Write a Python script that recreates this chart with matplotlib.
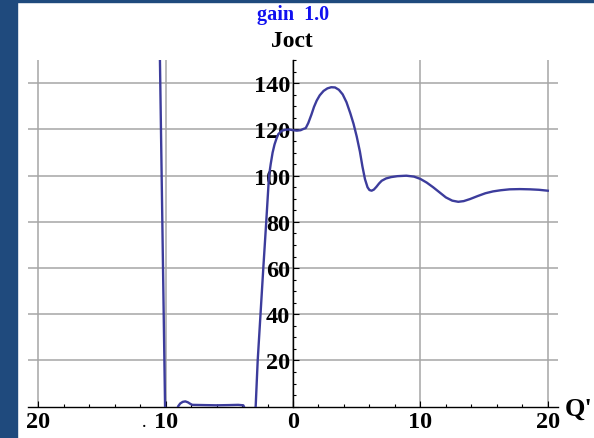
import matplotlib
matplotlib.use("Agg")
import matplotlib.pyplot as plt
from matplotlib.patches import Rectangle
from matplotlib.ticker import MultipleLocator, FuncFormatter

# Joct response against Q'
q_vals = [-10.55, -10.04, -9.6, -9.1, -9.0, -8.85, -8.65, -8.45, -8.25, -8.05,
          -7.9, -7.0, -6.0, -5.0, -4.3, -3.9, -3.6, -3.2, -2.93, -2.77,
          -2.55, -2.33, -2.1, -1.88, -1.75, -1.6, -1.45, -1.3, -1.15, -0.9,
          -0.6, -0.3, 0.0, 0.3, 0.6, 0.8, 1.0, 1.2, 1.45, 1.65,
          1.86, 2.1, 2.4, 2.7, 3.0, 3.3, 3.6, 3.9, 4.2, 4.5,
          4.75, 5.0, 5.25, 5.45, 5.65, 5.85, 6.0, 6.17, 6.35, 6.55,
          6.75, 6.96, 7.3, 7.7, 8.2, 8.9, 9.5, 10.0, 10.5, 11.0,
          11.5, 12.0, 12.5, 12.97, 13.4, 13.9, 14.5, 15.1, 15.7, 16.3,
          17.0, 17.8, 18.6, 19.3, 20.0]
joct_vals = [190, 0, -4, -1, 0.3, 1.4, 2.1, 2.3, 1.9, 1.2,
             0.8, 0.7, 0.6, 0.7, 0.8, 0.6, -3, -3, 0, 20,
             40, 60, 80, 100, 105, 110, 113.5, 116, 118, 119.4,
             119.9, 120, 119.7, 119.5, 119.7, 120.2, 120.6, 122.8, 126.5, 129.8,
             132.5, 134.8, 136.7, 137.8, 138.3, 138.2, 137.2, 135.2, 131.8, 127,
             122.5, 117, 110.5, 104, 98.5, 95, 93.8, 93.5, 94.0, 95.2,
             96.6, 97.8, 98.8, 99.4, 99.8, 100, 99.6, 98.6, 97, 95,
             92.8, 90.6, 89.2, 88.7, 89, 89.9, 91.2, 92.4, 93.2, 93.7,
             94.1, 94.2, 94.1, 93.9, 93.5]

x_grid = [-20, -10, 0, 10, 20]
y_grid = [20, 40, 60, 80, 100, 120, 140]
gain = 1.0

serif = "Liberation Serif"
line_color = "#3c3c9c"
frame_color = "#1f4a7d"

fig = plt.figure(figsize=(5.94, 4.39), dpi=100)
ax = fig.add_axes([0.0471, 0.0713, 0.8923, 0.7893])

ax.plot(q_vals, joct_vals, color=line_color, lw=1.7, zorder=3,
        solid_joinstyle="round")
ax.set_xlim(-20.8, 20.8)
ax.set_ylim(0, 150)

for gx in x_grid:
    ax.axvline(gx, color="#a6a6a6", lw=1.1, zorder=1)
for gy in y_grid:
    ax.axhline(gy, color="#a6a6a6", lw=1.1, zorder=1)

# axes cross at the origin
ax.spines["left"].set_position(("data", 0))
ax.spines["right"].set_visible(False)
ax.spines["top"].set_visible(False)
for side in ["left", "bottom"]:
    ax.spines[side].set_linewidth(1.0)
    ax.spines[side].set_zorder(2)

ax.xaxis.set_major_locator(MultipleLocator(10))
ax.xaxis.set_minor_locator(MultipleLocator(2))
ax.yaxis.set_major_locator(MultipleLocator(20))
ax.yaxis.set_minor_locator(MultipleLocator(5))
ax.xaxis.set_major_formatter(FuncFormatter(lambda v, p: "%d" % abs(round(v))))
ax.yaxis.set_major_formatter(FuncFormatter(lambda v, p: "" if v == 0 else "%d" % v))

ax.tick_params(which="major", direction="in", length=4.5, width=0.8)
ax.tick_params(which="minor", direction="in", length=2.5, width=0.8)
ax.tick_params(axis="x", pad=3)
ax.tick_params(axis="y", pad=2)
for lab in ax.get_xticklabels() + ax.get_yticklabels():
    lab.set_fontfamily(serif)
    lab.set_fontweight("bold")
    lab.set_fontsize(17.5)

ax.patch.set_alpha(0)

fig.text(0.494, 0.966, "gain  %.1f" % gain, color="#1010f0", fontsize=14.5,
         fontfamily=serif, fontweight="bold", ha="center", va="center")
fig.text(0.492, 0.905, "Joct", color="black", fontsize=17,
         fontfamily=serif, fontweight="bold", ha="center", va="center")
fig.text(0.975, 0.068, "Q'", color="black", fontsize=19,
         fontfamily=serif, fontweight="bold", ha="center", va="center")
fig.text(0.243, 0.026, "\u00b7", color="black", fontsize=10,
         fontfamily=serif, fontweight="bold", ha="center", va="center")

# dark frame along left and top edges
fig.patches.append(Rectangle((0, 0), 17 / 594, 1, transform=fig.transFigure,
                             color=frame_color, zorder=0))
fig.patches.append(Rectangle((0, 1 - 3 / 439), 1, 3 / 439, transform=fig.transFigure,
                             color=frame_color, zorder=0))

fig.savefig("out.png", dpi=100)
